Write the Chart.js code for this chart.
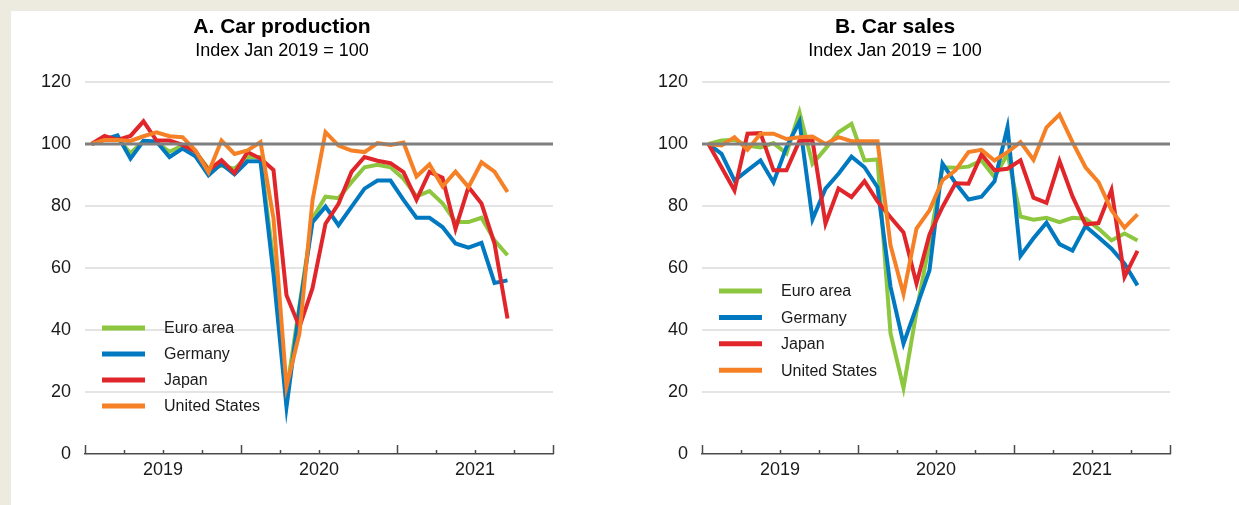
<!DOCTYPE html>
<html>
<head>
<meta charset="utf-8">
<script src="https://cdn.jsdelivr.net/npm/chart.js@4.4.1/dist/chart.umd.min.js"></script>
<style>
  html, body { margin: 0; padding: 0; background: #edeadf; overflow: hidden; width: 1239px; height: 505px; }
  #sheet { position: absolute; left: 11px; top: 11px; right: 0; bottom: 0; background: #fff; }
  .panel { position: absolute; top: 11px; }
  #panelA { left: 11px; }
  #panelB { left: 620px; }
</style>
</head>
<body>
<div id="sheet"></div>
<div class="panel" id="panelA"><canvas id="prodChart" width="616" height="494"></canvas></div>
<div class="panel" id="panelB"><canvas id="salesChart" width="632" height="494"></canvas></div>
<script>
// monthly, Jan 2019 onwards
const yearLabels = ["2019", "2020", "2021"];
const seriesNames = ["Euro area", "Germany", "Japan", "United States"];
const seriesColors = ["#8dc63f", "#0079c1", "#e0262b", "#f58025"];

// A. Car production (Jan 2019 - Sep 2021)
const prodEuro = [100, 101.5, 102, 97, 101, 100.5, 97.5, 99.5, 97.5, 92, 93, 92, 95.8, 95.8, 62, 20, 48, 76, 83, 82.5, 87.7, 92.5, 93.3, 92.5, 88.8, 83.1, 84.8, 80.9, 74.8, 74.8, 76.2, 68.9, 64.1];
const prodGermany = [100, 101.5, 102.8, 95.3, 101, 100.8, 95.8, 98.5, 96, 89.9, 93.6, 90.2, 94.4, 94.4, 58, 15.2, 47, 74.8, 79.8, 73.8, 79.7, 85.6, 88.2, 88.2, 82, 76.2, 76.2, 73.2, 67.9, 66.6, 68.1, 55.2, 56];
const prodJapan = [100, 102.6, 101.3, 102.6, 107.3, 101.1, 101.1, 99.7, 97.6, 91.5, 94.8, 90.6, 97.4, 95.3, 91.6, 51.2, 41, 53.5, 74.3, 80.7, 91, 95.8, 94.6, 93.8, 90.9, 82, 91, 89.1, 72.6, 86.1, 80.8, 67.9, 43.7];
const prodUS = [100, 101.3, 101.3, 101, 102.5, 103.8, 102.5, 102.2, 97.9, 90.9, 101.1, 96.8, 97.9, 100.6, 76, 21.7, 39, 81.8, 103.8, 99.5, 97.9, 97.4, 100.3, 99.7, 100.5, 89.5, 93.4, 86.3, 91.1, 86.1, 94.1, 91.1, 84.5];

// B. Car sales (Jan 2019 - Oct 2021)
const salesEuro = [100, 101.1, 101.4, 99.5, 98.9, 100.3, 97, 110.2, 93.6, 98.5, 103.8, 106.5, 94.7, 95, 39, 21.3, 46, 68, 92.5, 92.3, 92.7, 94.7, 89.3, 96.8, 76.6, 75.6, 76.2, 74.8, 76.2, 75.9, 72.7, 68.9, 71.1, 68.9];
const salesGermany = [100, 96.8, 88.2, 91.5, 94.7, 87.6, 99, 107.2, 75.7, 85.6, 90.4, 95.9, 92.5, 86.1, 54, 35.6, 47.4, 59.3, 93.7, 87.4, 82.1, 83, 88, 105.4, 63.9, 69.6, 74.6, 67.7, 65.6, 73.5, 69.9, 66.2, 61.4, 54.4];
const salesJapan = [100, 92.5, 85, 103.3, 103.5, 91.5, 91.5, 101.1, 101.1, 74.3, 85.6, 82.9, 88, 81.5, 76.4, 71.5, 55, 70.8, 79.7, 87.3, 87.2, 96.6, 91.5, 92, 94.7, 82.7, 81, 94.5, 83.1, 74.1, 74.5, 85.2, 57.1, 65.5];
const salesUS = [100, 99.5, 102.2, 98.1, 103.3, 103.3, 101.6, 102.2, 102.4, 100, 102.2, 100.9, 100.9, 100.9, 67.3, 51.6, 72.7, 78.6, 88.3, 91.5, 97.4, 98.1, 94.7, 97.4, 100.6, 94.9, 105.4, 109.5, 100.6, 92.5, 87.7, 78.6, 73, 77.3];

const refValue = 100;
const fontFamily = "'Liberation Sans', Arial, Helvetica, sans-serif";
Chart.defaults.font.family = fontFamily;
Chart.defaults.color = "#1a1a1a";

function toPoints(values) {
  return values.map((v, i) => ({ x: i + 0.5, y: v }));
}

// grey 100 line on top of the series, quarter ticks on the time axis
const axisExtras = {
  id: "axisExtras",
  afterDatasetsDraw(chart) {
    const ctx = chart.ctx;
    const xs = chart.scales.x;
    const ys = chart.scales.y;
    const area = chart.chartArea;
    ctx.save();
    const yRef = ys.getPixelForValue(refValue);
    ctx.strokeStyle = "#7f7f7f";
    ctx.lineWidth = 3;
    ctx.beginPath();
    ctx.moveTo(area.left, yRef);
    ctx.lineTo(area.right, yRef);
    ctx.stroke();

    ctx.strokeStyle = "#4a4a4a";
    ctx.lineWidth = 1.5;
    for (let m = xs.min; m <= xs.max; m += 3) {
      const px = Math.round(xs.getPixelForValue(m)) + 0.5;
      const len = m % 12 === 0 ? 9 : 4;
      ctx.beginPath();
      ctx.moveTo(px, area.bottom);
      ctx.lineTo(px, area.bottom - len);
      ctx.stroke();
    }
    ctx.restore();
  }
};

const insideLegend = {
  id: "insideLegend",
  afterDraw(chart, args, opts) {
    const ctx = chart.ctx;
    const area = chart.chartArea;
    ctx.save();
    ctx.font = "16px " + fontFamily;
    ctx.textBaseline = "middle";
    chart.data.datasets.forEach((ds, i) => {
      const y = area.top + opts.top + i * opts.gap;
      ctx.strokeStyle = ds.borderColor;
      ctx.lineWidth = 5;
      ctx.beginPath();
      ctx.moveTo(area.left + opts.left, y);
      ctx.lineTo(area.left + opts.left + 43, y);
      ctx.stroke();
      ctx.fillStyle = "#1a1a1a";
      ctx.fillText(ds.label, area.left + opts.left + 62, y + 1);
    });
    ctx.restore();
  }
};

function makeChart(canvasId, title, series, sideWidth, legendPos) {
  const ctx = document.getElementById(canvasId).getContext("2d");
  return new Chart(ctx, {
    type: "line",
    data: {
      datasets: series.map((values, i) => ({
        label: seriesNames[i],
        data: toPoints(values),
        borderColor: seriesColors[i],
        backgroundColor: seriesColors[i],
        borderWidth: 4,
        pointRadius: 0,
        tension: 0,
        order: series.length - i
      }))
    },
    options: {
      responsive: false,
      animation: false,
      layout: { padding: { left: 0, right: sideWidth, top: 0, bottom: 0 } },
      plugins: {
        legend: { display: false },
        tooltip: { enabled: false },
        title: {
          display: true,
          text: title,
          color: "#000",
          font: { size: 21, weight: "bold" },
          padding: { top: 4, bottom: 0 }
        },
        subtitle: {
          display: true,
          text: "Index Jan 2019 = 100",
          color: "#000",
          font: { size: 18 },
          padding: { top: 0, bottom: 20.2 }
        },
        insideLegend: legendPos
      },
      scales: {
        x: {
          type: "linear",
          min: 0,
          max: 36,
          afterFit: (scale) => { scale.height = 51; },
          border: { display: true, color: "#4a4a4a", width: 1.5 },
          grid: { drawOnChartArea: false, drawTicks: false },
          ticks: {
            stepSize: 3,
            autoSkip: false,
            maxRotation: 0,
            padding: 5,
            font: { size: 18 },
            callback: (value) => (value % 12 === 6 ? yearLabels[(value - 6) / 12] : "")
          }
        },
        y: {
          min: 0,
          max: 120,
          afterFit: (scale) => { scale.width = sideWidth; },
          border: { display: false },
          grid: {
            drawTicks: false,
            color: (c) => (c.tick.value === 0 ? "rgba(0,0,0,0)" : "#e4e4e4"),
            lineWidth: 2
          },
          ticks: { stepSize: 20, padding: 14, font: { size: 18 } }
        }
      }
    },
    plugins: [axisExtras, insideLegend]
  });
}

makeChart("prodChart", "A. Car production", [prodEuro, prodGermany, prodJapan, prodUS], 74, { left: 17, top: 246, gap: 26 });
makeChart("salesChart", "B. Car sales", [salesEuro, salesGermany, salesJapan, salesUS], 82, { left: 17, top: 209, gap: 26.4 });
</script>
</body>
</html>
